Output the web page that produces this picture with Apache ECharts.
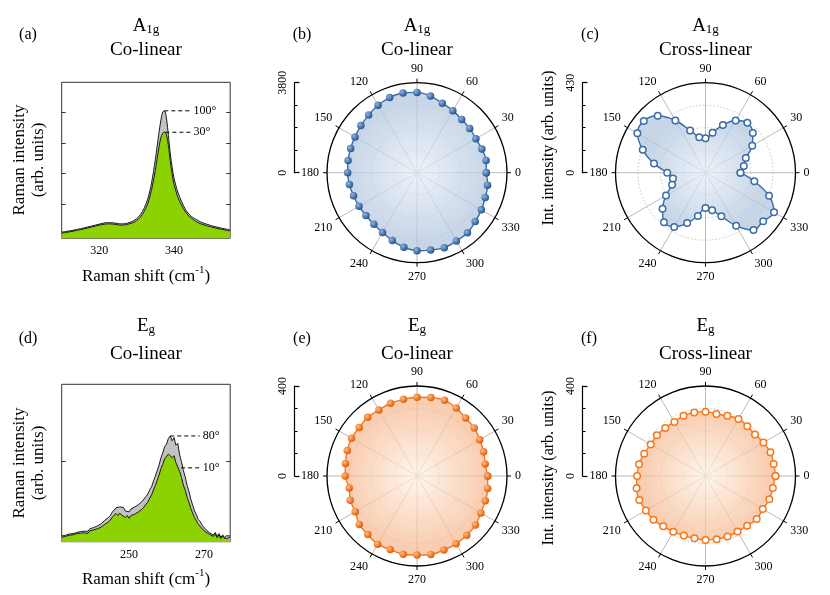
<!DOCTYPE html>
<html><head><meta charset="utf-8">
<script src="https://cdn.jsdelivr.net/npm/echarts@6/dist/echarts.min.js"></script>
<style>html,body{margin:0;padding:0;background:#fff}#c{width:830px;height:595px}</style>
</head><body><div id="c"></div>
<script>
// ---------- DATA ----------
const angles = [0,10,20,30,40,50,60,70,80,90,100,110,120,130,140,150,160,170,180,190,200,210,220,230,240,250,260,270,280,290,300,310,320,330,340,350];
const a1gCoIntensity = [2927,2964,2913,2871,2906,2937,3025,3121,3287,3391,3419,3377,3292,3176,3096,3025,2983,2955,2927,2899,2852,2828,2814,2835,2913,3049,3194,3293,3318,3370,3331,3314,3208,3138,3067,3025];
const a1gCrossIntensity = [167,186,205,258,295,311,288,243,194,164,172,215,288,355,385,376,319,250,183,158,170,218,268,309,299,256,210,169,182,221,293,357,360,378,323,237];
const egCoIntensity = [314,308,315,322,332,336,349,358,354,350,346,344,339,341,335,336,330,323,319,306,316,317,335,340,350,348,353,351,354,350,348,344,339,328,323,319];
const egCrossIntensity = [311,308,307,297,287,289,293,285,280,286,287,285,277,278,282,281,290,300,304,311,313,306,302,292,286,282,281,284,285,286,285,288,297,294,302,304];
const polarMax = {a1gCo: 3800, a1gCross: 430, egCo: 400, egCross: 400};
const angleTicks = [0,30,60,90,120,150,180,210,240,270,300,330];

const shiftA = [310,311,312,313,314,315,316,317,318,319,320,321,322,323,324,325,326,327,328,329,330,331,332,333,334,335,335.5,336,336.5,337,337.5,338,338.5,339,339.5,340,341,342,343,344,345,346,347,348,349,350,351,352,353,354,355];
const a1gSpec100 = [0.9,1.1,1.3,1.5,1.8,2.0,2.3,2.6,2.9,3.2,3.5,3.8,4.0,4.0,3.9,3.7,3.6,3.7,4.0,4.5,5.3,6.6,8.7,11.8,17.0,24.5,29.0,33.5,37.5,40.2,40.4,37.8,32.5,26.5,22.0,18.5,14.0,11.0,8.4,6.8,5.7,5.0,4.3,3.8,3.4,3.0,2.7,2.4,2.1,1.9,1.6];
const a1gSpec30 = [0.6,0.8,1.0,1.2,1.5,1.7,2.0,2.3,2.6,2.9,3.2,3.4,3.6,3.6,3.5,3.3,3.2,3.3,3.6,4.0,4.7,5.8,7.6,10.3,14.8,21.0,25.0,28.8,31.8,33.2,33.6,32.6,29.2,24.0,19.8,16.5,12.4,9.7,7.6,6.1,5.1,4.3,3.7,3.3,2.9,2.6,2.3,2.0,1.8,1.5,1.3];
const shiftATicks = [320,330,340,350];
const shiftALabels = [320,340];

const shiftD = [232,232.5,233,233.5,234,234.5,235,235.5,236,236.5,237,237.5,238,238.5,239,239.5,240,240.5,241,241.5,242,242.5,243,243.5,244,244.5,245,245.5,246,246.5,247,247.5,248,248.5,249,249.5,250,250.5,251,251.5,252,252.5,253,253.5,254,254.5,255,255.5,256,256.5,257,257.5,258,258.5,259,259.5,260,260.5,261,261.5,262,262.5,263,263.5,264,264.5,265,265.5,266,266.5,267,267.5,268,268.5,269,269.5,270,270.5,271,271.5,272,272.5,273,273.5,274,274.5,275,275.5,276,276.5,277];
const egSpec80 = [1.4,1.0,1.6,1.2,1.9,1.5,2.0,1.7,2.3,2.0,2.5,2.1,2.6,2.9,2.6,3.2,3.0,3.5,3.3,3.9,3.7,4.4,4.6,5.3,5.0,6.0,6.5,7.3,7.0,8.4,8.0,8.6,8.2,8.5,7.6,8.0,7.4,8.1,7.8,8.6,8.4,9.2,9.0,10.0,10.4,11.2,11.8,12.9,13.6,15.0,16.2,17.6,19.0,20.8,22.0,23.6,24.2,25.6,26.2,25.0,25.8,23.9,24.4,21.5,19.8,17.6,16.0,13.9,12.4,10.5,9.0,7.6,6.6,5.5,5.0,4.1,3.8,3.0,2.9,2.2,2.6,1.6,2.3,1.3,2.0,1.1,1.7,1.0,1.5,1.2,1.4];
const egSpec10 = [1.1,0.8,1.3,0.9,1.6,1.2,1.7,1.4,2.0,1.6,2.1,1.7,2.2,2.4,2.1,2.7,2.4,2.9,2.6,3.2,3.0,3.6,3.7,4.3,4.0,4.9,5.4,6.1,5.8,7.0,6.5,7.1,6.6,6.9,6.0,6.5,5.8,6.5,6.1,6.8,6.7,7.4,7.3,8.1,8.6,9.3,9.8,10.8,11.6,12.8,13.9,15.2,16.5,18.1,19.2,20.6,20.9,21.7,21.9,20.8,21.3,19.6,19.9,17.4,15.9,14.0,12.7,11.0,9.7,8.2,7.0,5.9,5.1,4.3,3.9,3.2,3.0,2.4,2.3,1.8,2.1,1.3,1.9,1.0,1.7,0.8,1.4,0.8,1.2,0.9,1.1];
const shiftDTicks = [240,250,260,270];
const shiftDLabels = [250,270];

// annotation markers: [peak shift, peak value, label]
const annA = [[337.4, 40.5, '100°'], [337.7, 33.5, '30°']];
const annD = [[261.0, 26.2, '80°'], [263.9, 18.3, '10°']];
const annEndA = 344.4, annEndD = 268.85;

// ---------- STYLE ----------
const SERIF = "'Liberation Serif','Times New Roman',serif";
const BLUE = '#3a6ca6', ORANGE = '#f77719';
const sphere = (c0, c1) => ({type:'radial', x:0.35, y:0.35, r:0.7, colorStops:[{offset:0,color:c0},{offset:1,color:c1}]});
const fill = (c0, c1) => ({type:'radial', x:0.5, y:0.5, r:0.5, colorStops:[{offset:0,color:c0},{offset:1,color:c1}]});
const blueFill = fill('rgba(232,238,248,0.72)', 'rgba(178,198,222,0.72)');
const orangeFill = fill('rgba(255,242,230,0.72)', 'rgba(246,186,146,0.72)');

const polarCenters = [[417,172.7],[705.5,172.7],[417,476],[705.5,476]];
const R = 90;
const maxes = [polarMax.a1gCo, polarMax.a1gCross, polarMax.egCo, polarMax.egCross];

const polar = polarCenters.map(c => ({center:c, radius:R}));
const angleAxis = polarCenters.map((c,i) => ({
  polarIndex:i, type:'value', min:0, max:360, interval:30, startAngle:0, clockwise:false,
  axisLine:{lineStyle:{color:'#000', width:1.3}},
  axisTick:{show:true, length:4, lineStyle:{color:'#000', width:1}},
  axisLabel:{fontSize:12, fontFamily:SERIF, color:'#000', margin:8, formatter: v => (angleTicks.indexOf(v) >= 0 ? String(v) : '')},
  splitLine:{show:true, lineStyle:{color:'#a8a8a8', width:0.8}}
}));
const radiusAxis = maxes.map((m,i) => ({
  polarIndex:i, type:'value', min:0, max:m, interval:m/4,
  axisLine:{show:false}, axisTick:{show:false}, axisLabel:{show:false},
  splitLine:{show:true, lineStyle:{color:'#b5b5b5', width:0.8, type:[1.5,2]}}
}));

// grids: 0 (a), 1 (d), 2..5 scale bars
const grid = [
  {left:61.7, top:82.3, width:168.5, height:156, show:true, borderColor:'#333', borderWidth:1},
  {left:61.7, top:384.3, width:168.5, height:157.4, show:true, borderColor:'#333', borderWidth:1},
  ...polarCenters.map((c,i) => ({left: i%2===0 ? 294.5 : 582.5, top: c[1]-R, width:1, height:R}))
];

const specX = (gi, min, max, ticks, labels) => ({
  gridIndex:gi, type:'value', min, max,
  axisLine:{show:false, onZero:false},
  axisTick:{show:true, inside:true, length:4, lineStyle:{color:'#333'}, customValues:ticks},
  axisLabel:{fontSize:12, fontFamily:SERIF, color:'#000', margin:7, customValues:labels, formatter: v => (labels.indexOf(v) >= 0 ? String(v) : '')},
  splitLine:{show:false}
});
const specY = (gi, pos, min, max, ticks) => ({
  gridIndex:gi, type:'value', position:pos, min, max,
  axisLine:{show:false, onZero:false},
  axisTick:{show:true, inside:true, length:4, lineStyle:{color:'#333'}, customValues:ticks},
  axisLabel:{show:false}, splitLine:{show:false}
});

const xAxis = [
  specX(0, 310, 355, shiftATicks, shiftALabels),
  specX(1, 232, 277, shiftDTicks, shiftDLabels),
  ...[2,3,4,5].map(g => ({gridIndex:g, type:'value', show:false}))
];
const yAxis = [
  specY(0, 'left', -1.1, 49.8, [10,20,30,40]),
  specY(0, 'right', -1.1, 49.8, [10,20,30,40]),
  specY(1, 'left', 0, 39, [20]),
  specY(1, 'right', 0, 39, [20]),
  ...maxes.map((m,i) => ({
    gridIndex:2+i, type:'value', position:'left', min:0, max:m, interval:m,
    axisLine:{show:true, lineStyle:{color:'#000', width:1.2}},
    axisTick:{show:true, inside:true, length:5, lineStyle:{color:'#000', width:1.2}},
    minorTick:{show:true, splitNumber:4, length:3, lineStyle:{color:'#000', width:1}},
    axisLabel:{rotate:90, margin:6, fontSize:12, fontFamily:SERIF, color:'#000', formatter: v => String(v)},
    splitLine:{show:false}
  }))
];

const pair = (xs, ys) => xs.map((x,i) => [x, ys[i]]);
const closed = vals => { const d = angles.map((a,i) => [vals[i], a]); d.push([vals[0], 360]); return d; };

const specSeries = (xi, yi, xs, ys, col, smooth) => ({
  type:'line', xAxisIndex:xi, yAxisIndex:yi, data:pair(xs, ys), symbol:'none', smooth,
  lineStyle:{color:'#1a1a1a', width:1}, areaStyle:{color:col, opacity:1, origin:'start'}, silent:true
});
const annSeries = (xi, yi, ann, xEnd) => ann.map(a => ({
  type:'line', xAxisIndex:xi, yAxisIndex:yi, data:[[a[0], a[1]], [xEnd, a[1]]], symbol:'none', z:5,
  lineStyle:{color:'#000', width:1, type:[4,3]}, silent:true,
  endLabel:{show:true, formatter:a[2], fontSize:12, fontFamily:SERIF, color:'#000', distance:3}
}));

const polarSeries = (pi, vals, filled, color, areaCol) => ({
  type:'line', coordinateSystem:'polar', polarIndex:pi, data:closed(vals), smooth:0.35,
  symbol:'circle', symbolSize: filled ? 7.5 : 6.5, showAllSymbol:true, silent:true, z:3,
  lineStyle:{color, width:1.4},
  itemStyle: filled ? {color: color === BLUE ? sphere('#90b4e0','#1f4f8a') : sphere('#ffbb80','#dd5800')}
                    : {color:'#fff', borderColor:color, borderWidth:1.5},
  areaStyle:{color:areaCol, opacity:1}
});

const series = [
  specSeries(0, 0, shiftA, a1gSpec100, '#c2c2c2', 0.3),
  specSeries(0, 0, shiftA, a1gSpec30, '#8cd200', 0.3),
  specSeries(1, 2, shiftD, egSpec80, '#c2c2c2', false),
  specSeries(1, 2, shiftD, egSpec10, '#8cd200', false),
  ...annSeries(0, 0, annA, annEndA),
  ...annSeries(1, 2, annD, annEndD),
  polarSeries(0, a1gCoIntensity, true, BLUE, blueFill),
  polarSeries(1, a1gCrossIntensity, false, BLUE, blueFill),
  polarSeries(2, egCoIntensity, true, ORANGE, orangeFill),
  polarSeries(3, egCrossIntensity, false, ORANGE, orangeFill)
];

// ---------- TEXT ----------
const richT = {
  m:{fontSize:19, fontFamily:SERIF, fill:'#000', color:'#000', lineHeight:22, verticalAlign:'bottom'},
  s:{fontSize:13, fontFamily:SERIF, fill:'#000', color:'#000', lineHeight:14, verticalAlign:'bottom'},
  n:{fontSize:17, fontFamily:SERIF, fill:'#000', color:'#000', lineHeight:20, verticalAlign:'bottom'},
  p:{fontSize:11, fontFamily:SERIF, fill:'#000', color:'#000', lineHeight:12, verticalAlign:'top'}
};
const txt = (x, y, text, size, rot) => ({
  type:'text', x, y, rotation: rot || 0, silent:true,
  style:{text, fontSize:size, fontFamily:SERIF, fill:'#000', align:'center', verticalAlign:'middle',
         textAlign:'center', textVerticalAlign:'middle', rich:richT}
});
const ROT = Math.PI/2;
const graphic = [
  txt(28, 35, '(a)', 16), txt(302, 35, '(b)', 16), txt(590, 35, '(c)', 16),
  txt(28, 339, '(d)', 16), txt(302, 339, '(e)', 16), txt(589, 339, '(f)', 16),
  txt(146, 25, '{m|A}{s|1g}', 19), txt(146, 50.4, 'Co-linear', 19),
  txt(417, 25, '{m|A}{s|1g}', 19), txt(417, 50.4, 'Co-linear', 19),
  txt(705.5, 25, '{m|A}{s|1g}', 19), txt(705.5, 50.4, 'Cross-linear', 19),
  txt(146, 325, '{m|E}{s|g}', 19), txt(146, 353.7, 'Co-linear', 19),
  txt(417, 325, '{m|E}{s|g}', 19), txt(417, 353.7, 'Co-linear', 19),
  txt(705.5, 325, '{m|E}{s|g}', 19), txt(705.5, 353.7, 'Cross-linear', 19),
  txt(146, 275, '{n|Raman shift (cm}{p|-1}{n|)}', 17), txt(146, 578, '{n|Raman shift (cm}{p|-1}{n|)}', 17),
  txt(20, 160, 'Raman intensity', 17, ROT), txt(39, 160, '(arb. units)', 17, ROT),
  txt(20, 463, 'Raman intensity', 17, ROT), txt(39, 463, '(arb. units)', 17, ROT),
  txt(549, 148, 'Int. intensity (arb. units)', 16, ROT), txt(549, 468, 'Int. intensity (arb. units)', 16, ROT)
];

const chart = echarts.init(document.getElementById('c'), null, {renderer:'canvas'});
chart.setOption({animation:false, backgroundColor:'#fff', grid, xAxis, yAxis, polar, angleAxis, radiusAxis, series, graphic});
</script></body></html>
